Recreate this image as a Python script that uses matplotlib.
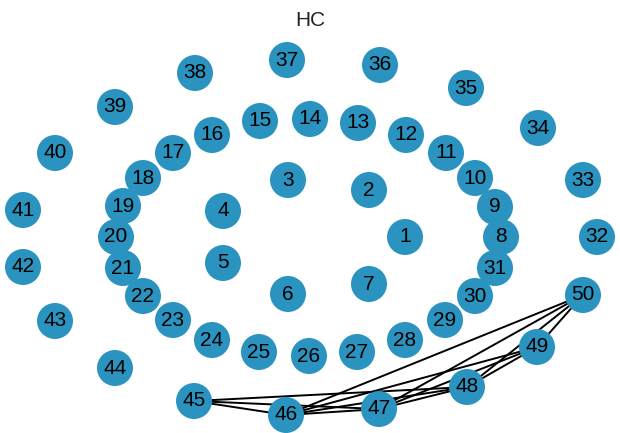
import matplotlib.pyplot as plt
from matplotlib.patches import Circle

nodes = list(range(1, 51))
node_x = [405, 369, 288, 223, 223, 288, 369, 501, 495, 475,
          446, 406, 358, 310, 260, 212, 173, 143, 123, 116,
          123, 143, 173, 212, 259, 309, 357, 405, 445, 475,
          495, 597, 583, 538, 466, 380, 287, 195, 115, 55,
          23, 23, 55, 115, 194, 286, 379, 467, 537, 583]
node_y = [237, 190, 180, 211, 263, 294, 284, 237, 207, 178,
          153, 135, 123, 119, 121, 135, 153, 178, 206, 237,
          268, 296, 320, 340, 352, 356, 352, 340, 320, 296,
          268, 237, 180, 128, 88, 65, 60, 73, 107, 153,
          210, 267, 321, 368, 401, 415, 409, 387, 347, 295]
edges = [(45, 46), (45, 47), (45, 48),
         (46, 47), (46, 48), (46, 49), (46, 50),
         (47, 48), (47, 49), (47, 50),
         (48, 49), (48, 50), (49, 50)]

fig = plt.figure(figsize=(6.2, 4.33), dpi=100)
ax = fig.add_axes([0, 0, 1, 1])
ax.set_xlim(0, 620)
ax.set_ylim(433, 0)
ax.set_aspect("equal")
ax.axis("off")

for a, b in edges:
    ax.plot([node_x[a - 1], node_x[b - 1]], [node_y[a - 1], node_y[b - 1]],
            color="black", lw=1.4, zorder=1)

for n, x, y in zip(nodes, node_x, node_y):
    ax.add_patch(Circle((x, y), 18, facecolor="#2b93bf",
                        edgecolor="none", zorder=2))
    ax.text(x, y, str(n), ha="center", va="center", fontsize=15,
            family="Liberation Sans", color="black", zorder=3)

ax.text(310, 20, "HC", ha="center", va="center", fontsize=15,
        family="Liberation Sans", color="#222222")

fig.savefig("out.png", dpi=100)
